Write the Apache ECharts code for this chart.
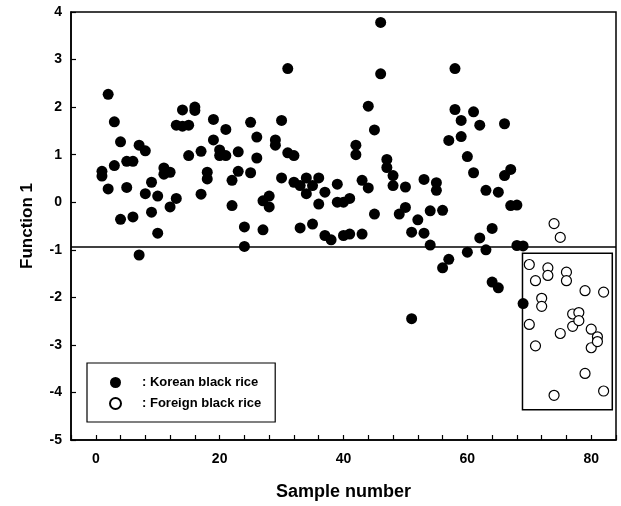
<!DOCTYPE html>
<html>
<head>
<meta charset="utf-8">
<script src="https://cdn.jsdelivr.net/npm/echarts@6/dist/echarts.min.js"></script>
<style>
html,body{margin:0;padding:0;background:#fff;}
#chart{width:621px;height:506px;}
</style>
</head>
<body>
<div id="chart"></div>
<script>
// Korean black rice samples (filled circles)
const koreanX = [1,1,2,2,3,3,4,4,5,5,6,6,7,7,8,8,9,9,10,10,
  11,11,12,12,13,13,14,14,15,15,16,16,17,17,18,18,19,19,20,20,
  21,21,22,22,23,23,24,24,25,25,26,26,27,27,28,28,29,29,30,30,
  31,31,32,32,33,33,34,34,35,35,36,36,37,37,38,39,39,40,40,41,41,
  42,42,43,43,44,44,45,45,46,46,47,47,48,48,49,50,50,51,51,52,53,53,
  54,54,55,55,56,56,57,57,58,58,59,59,60,60,61,61,62,62,63,63,
  64,64,65,65,66,66,67,67,68,68,69,69];
const koreanY = [0.65,0.55,2.27,0.28,1.69,0.77,1.27,-0.36,0.86,0.31,0.86,-0.31,1.2,-1.11,1.08,0.18,0.42,-0.21,0.13,-0.65,
  0.72,0.59,0.63,-0.1,1.62,0.08,1.94,1.6,1.62,0.98,2.0,1.93,1.07,0.17,0.63,0.49,1.74,1.31,1.1,0.98,
  1.53,0.98,0.46,-0.07,1.06,0.65,-0.52,-0.93,1.68,0.62,1.37,0.93,0.03,-0.58,0.13,-0.1,1.31,1.2,1.72,0.51,
  2.81,1.04,0.98,0.42,0.35,-0.54,0.51,0.18,0.35,-0.46,0.51,-0.04,0.21,-0.7,-0.79,0.38,0.0,0.0,-0.7,0.08,-0.67,
  1.2,1.0,0.46,-0.67,2.02,0.3,1.52,-0.25,3.78,2.7,0.9,0.73,0.56,0.35,-0.25,0.32,-0.11,-0.63,-2.45,-0.37,0.48,-0.65,
  -0.18,-0.9,0.41,0.25,-0.17,-1.38,1.3,-1.2,2.81,1.95,1.72,1.38,0.96,-1.05,1.9,0.62,1.62,-0.75,0.25,-1.0,
  -0.55,-1.68,0.21,-1.8,1.65,0.56,0.69,-0.07,-0.06,-0.91,-0.92,-2.13];
// Foreign black rice samples (open circles)
const foreignX = [70,70,71,71,72,72,73,73,74,74,75,75,76,76,77,77,78,78,79,79,80,80,81,81,82,82];
const foreignY = [-1.31,-2.57,-1.65,-3.02,-2.02,-2.19,-1.38,-1.54,-0.45,-4.06,-0.74,-2.76,-1.47,-1.65,-2.35,-2.61,-2.32,-2.49,-1.86,-3.6,-2.67,-3.06,-2.83,-2.93,-1.89,-3.97];
const xTickLabels = [0,20,40,60,80];
const seriesNames = [': Korean black rice', ': Foreign black rice'];
const cutoffY = -0.93;
const boxCorners = [[68.9,-1.075],[83.4,-4.365]];

const koreanData = koreanX.map((x,i)=>[x,koreanY[i]]);
const foreignData = foreignX.map((x,i)=>[x,foreignY[i]]);

const chart = echarts.init(document.getElementById('chart'), null, {renderer:'canvas'});
const font = 'Liberation Sans, Arial, Helvetica, sans-serif';
chart.setOption({
  animation:false,
  backgroundColor:'#fff',
  grid:{left:71,right:5,top:12,bottom:64,show:true,borderColor:'#000',borderWidth:1.5,backgroundColor:'transparent'},
  legend:{
    orient:'vertical', left:87, top:363,
    data:seriesNames,
    borderColor:'#000', borderWidth:1.2,
    padding:[13,14,12,22],
    itemGap:8, itemWidth:11, itemHeight:11,
    textStyle:{fontFamily:font,fontWeight:'bold',fontSize:13,color:'#000',padding:[0,0,0,16]}
  },
  xAxis:{
    type:'value', min:-4, max:84, interval:4,
    name:'Sample number', nameLocation:'middle', nameGap:43,
    nameTextStyle:{fontFamily:font,fontWeight:'bold',fontSize:18,color:'#000'},
    axisLine:{onZero:false,lineStyle:{color:'#000',width:1.5}},
    axisTick:{inside:true,length:5,lineStyle:{color:'#000',width:1.2}},
    axisLabel:{margin:12,fontFamily:font,fontWeight:'bold',fontSize:14,color:'#000',
      formatter:v=> xTickLabels.indexOf(v)>=0 ? String(v) : ''},
    splitLine:{show:false}
  },
  yAxis:{
    type:'value', min:-5, max:4, interval:1,
    name:'Function 1', nameLocation:'middle', nameGap:35,
    nameTextStyle:{fontFamily:font,fontWeight:'bold',fontSize:17,color:'#000'},
    axisLine:{onZero:false,lineStyle:{color:'#000',width:1.5}},
    axisTick:{inside:true,length:5,lineStyle:{color:'#000',width:1.2}},
    axisLabel:{margin:9,fontFamily:font,fontWeight:'bold',fontSize:14,color:'#000'},
    splitLine:{show:false}
  },
  series:[
    {
      name:seriesNames[0], type:'scatter', data:koreanData,
      symbol:'circle', symbolSize:11,
      itemStyle:{color:'#000',opacity:1},
      markLine:{silent:true,symbol:'none',label:{show:false},
        lineStyle:{color:'#000',width:1.5,type:'solid'},
        data:[{yAxis:cutoffY}]}
    },
    {
      name:seriesNames[1], type:'scatter', data:foreignData,
      symbol:'circle', symbolSize:10,
      itemStyle:{color:'#fff',borderColor:'#000',borderWidth:1.2,opacity:1},
      markArea:{silent:true,
        itemStyle:{color:'rgba(0,0,0,0)',borderColor:'#000',borderWidth:1.5},
        data:[[{coord:boxCorners[0]},{coord:boxCorners[1]}]]}
    }
  ]
});
</script>
</body>
</html>
